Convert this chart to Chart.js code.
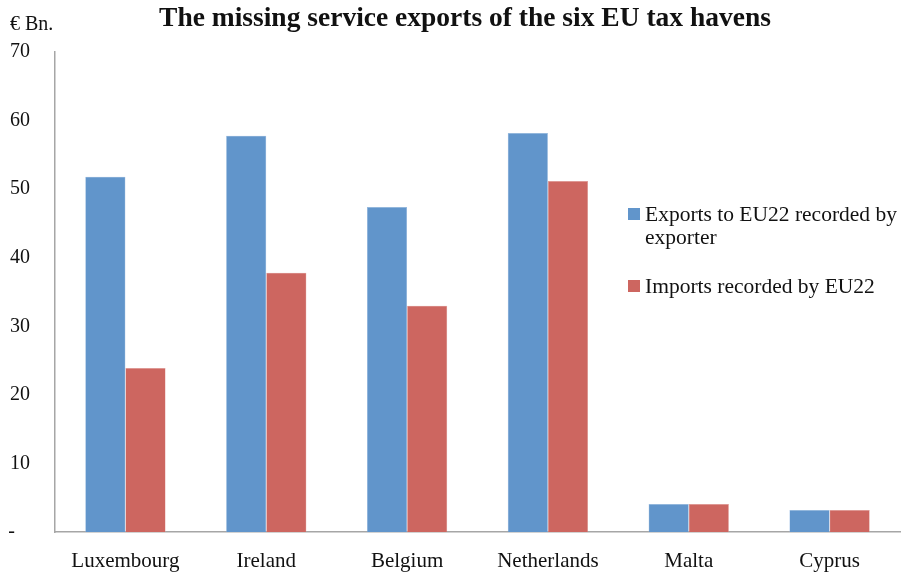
<!DOCTYPE html>
<html>
<head>
<meta charset="utf-8">
<script src="https://cdn.jsdelivr.net/npm/chart.js@4.4.1/dist/chart.umd.min.js"></script>
<style>
  html, body { margin:0; padding:0; background:#fff; }
  #wrap { position:relative; width:914px; height:573px; font-family:"Liberation Serif", "DejaVu Serif", serif; color:#111; }
  #title { position:absolute; left:0; width:930px; top:1px; text-align:center; font-size:27.5px; font-weight:bold; }
  #unit { position:absolute; left:10px; top:12px; font-size:20px; }
  #legend { position:absolute; left:628px; top:203px; width:286px; font-size:21.5px; line-height:23px; white-space:nowrap; }
  .item { position:relative; padding-left:17px; margin-bottom:26px; }
  .sw { position:absolute; left:0; top:5px; width:12px; height:12px; }
</style>
</head>
<body>
<div id="wrap">
  <canvas id="c" width="914" height="573"></canvas>
  <div id="title">The missing service exports of the six EU tax havens</div>
  <div id="unit">€ Bn.</div>
  <div id="legend"></div>
</div>
<script>
// chart data
const countries = ['Luxembourg', 'Ireland', 'Belgium', 'Netherlands', 'Malta', 'Cyprus'];
const exportsByExporter = [51.8, 57.8, 47.4, 58.2, 4.1, 3.2];
const importsByEU22 = [23.9, 37.8, 33.0, 51.2, 4.1, 3.2];
const seriesNames = [['Exports to EU22 recorded by', 'exporter'], ['Imports recorded by EU22']];
const seriesColors = ['#6195CB', '#CD6660'];
const yTicks = [0, 10, 20, 30, 40, 50, 60, 70];

const font = "'Liberation Serif', 'DejaVu Serif', serif";

const chart = new Chart(document.getElementById('c').getContext('2d'), {
  type: 'bar',
  data: {
    labels: countries,
    datasets: [
      { label: seriesNames[0].join(' '), data: exportsByExporter, backgroundColor: seriesColors[0], borderColor:'#8fb4dc', borderWidth:0.5 },
      { label: seriesNames[1].join(' '), data: importsByEU22, backgroundColor: seriesColors[1], borderColor:'#e09a95', borderWidth:0.5 }
    ]
  },
  options: {
    responsive:false,
    animation:false,
    layout:{ padding:{ left:0, right:14, top:52, bottom:0 } },
    datasets:{ bar:{ categoryPercentage:0.57, barPercentage:1.0 } },
    plugins:{
      legend:{ display:false },
      tooltip:{ enabled:false },
      title:{ display:false }
    },
    scales:{
      x:{
        grid:{ display:false, drawTicks:false },
        border:{ color:'#a6a6a6', width:1.5 },
        ticks:{ color:'#111', font:{ family:font, size:21 }, padding:17 },
        afterFit:(s)=>{ s.height = 41; }
      },
      y:{
        min:0, max:70,
        afterBuildTicks:(s)=>{ s.ticks = yTicks.map(v=>({ value:v })); },
        grid:{ display:false, drawTicks:false },
        border:{ color:'#a6a6a6', width:1.5 },
        ticks:{ color:'#111', font:{ family:font, size:20 }, padding:25,
          callback:(v)=> v === 0 ? '-   ' : String(v) },
        afterFit:(s)=>{ s.width = 55; }
      }
    }
  }
});

// html legend built from the series
const legendEl = document.getElementById('legend');
seriesNames.forEach((lines, i)=>{
  const d = document.createElement('div');
  d.className = 'item';
  d.innerHTML = '<span class="sw" style="background:' + seriesColors[i] + '"></span>' + lines.join('<br>');
  legendEl.appendChild(d);
});
</script>
</body>
</html>
